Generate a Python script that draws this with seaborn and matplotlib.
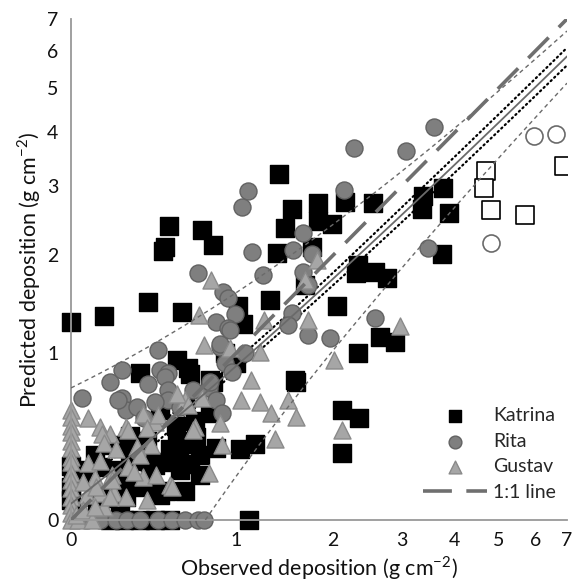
import matplotlib
matplotlib.use("Agg")
import matplotlib.pyplot as plt
import numpy as np
import pandas as pd
import seaborn as sns

# ---- values (g cm-2), observed vs predicted ----
katrina_obs = [0.00, 0.15, 0.38, 0.59, 0.51, 0.48, 0.47, 0.73, 0.81, 1.01,
               1.06, 1.39, 1.53, 1.82, 2.15, 2.55, 1.45, 1.82, 1.99, 1.37,
               1.75, 1.67, 1.30, 2.05, 2.33, 2.30, 2.58, 2.76, 3.38, 3.36,
               3.75, 3.87, 3.73, 2.66, 2.89, 1.57, 2.33, 2.11, 2.34, 2.11,
               1.16, 1.11,
               0.335, 0.56, 0.63, 0.91, 1.00, 0.81, 0.79, 0.56, 0.63, 0.69,
               0.84, 0.515, 0.47, 0.39, 0.35, 0.26, 0.21, 0.13, 0.04, 0.01,
               0.00, 0.375, 0.32, 0.26, 0.165, 0.115, 0.79, 1.56,
               0.61, 0.68, 0.55, 0.45, 0.28, 0.20, 0.083, 0.23, 0.45, 0.58,
               0.72, 0.28,
               0.18, 0.25, 0.335, 0.42, 0.515, 0.00, 1.03, 0.65, 0.65,
               0.49, 0.61, 0.72, 0.42, 0.106, 0.57, 0.36, 0.00]
katrina_pred = [1.27, 1.33, 1.47, 1.37, 2.39, 2.11, 2.06, 2.33, 2.13, 1.43,
                1.26, 3.21, 2.63, 2.73, 2.75, 2.72, 2.36, 2.46, 2.42, 2.03,
                2.10, 1.65, 1.49, 1.43, 1.88, 1.79, 1.80, 1.73, 2.83, 2.63,
                2.96, 2.57, 2.02, 1.14, 1.09, 0.77, 1.00, 0.58, 0.53, 0.32,
                0.37, 0.00,
                0.84, 0.94, 0.88, 1.00, 0.92, 0.77, 0.56, 0.39, 0.37, 0.41,
                0.35, 0.34, 0.27, 0.195, 0.146, 0.166, 0.23, 0.245, 0.23, 0.195,
                0.146, 0.39, 0.28, 0.10, 0.095, 0.073, 0.79, 0.79,
                0.61, 0.51, 0.48, 0.58, 0.31, 0.365, 0.18, 0.064, 0.11, 0.23,
                0.31, 0.42,
                0.00, 0.00, 0.00, 0.00, 0.00, 0.086, 0.34, 0.26, 0.83,
                0.13, 0.13, 0.205, 0.256, 0.31, 0.30, 0.30, 0.25]

rita_obs = [3.59, 3.08, 2.27, 2.14, 1.10, 1.05, 1.14, 0.70, 0.89, 0.93,
            0.99, 0.84, 0.93, 1.24, 1.65, 1.54, 1.75, 1.65, 1.70, 1.53,
            1.48, 1.70, 1.96, 2.58, 3.46, 0.44, 0.87, 0.91, 0.96, 0.45,
            0.50, 0.78, 0.047, 0.18, 0.24, 0.24, 0.26, 0.32, 0.38, 0.48,
            0.50, 0.50, 0.58, 0.67, 0.79, 0.84, 0.88, 0.36, 0.87, 0.95,
            1.07, 0.22, 0.42, 0.07, 0.13, 0.21, 0.265, 0.335, 0.44, 0.53,
            0.61, 0.70, 0.75]
rita_pred = [4.11, 3.62, 3.68, 2.93, 2.91, 2.67, 2.04, 1.79, 1.58, 1.51,
             1.35, 1.27, 1.22, 1.77, 2.29, 2.07, 2.02, 1.80, 1.65, 1.36,
             1.25, 1.155, 1.13, 1.31, 2.09, 1.025, 1.05, 0.92, 0.85, 0.86,
             0.84, 0.73, 0.66, 0.77, 0.86, 0.66, 0.58, 0.60, 0.76, 0.81,
             0.715, 0.645, 0.60, 0.715, 0.77, 0.645, 0.56, 0.53, 1.08, 1.20,
             1.00, 0.645, 0.63, 0.00, 0.00, 0.00, 0.00, 0.00, 0.00, 0.00,
             0.00, 0.00, 0.00]

gustav_obs = [0.00, 0.00, 0.00, 0.00, 0.00, 0.00, 0.00, 0.00, 0.00, 0.00,
              0.00, 0.00, 0.00, 0.00, 0.00, 0.03, 0.02,
              0.074, 0.13, 0.18, 0.26, 0.35, 0.42, 0.14, 0.15, 0.375, 0.40,
              0.32, 0.21, 0.074, 0.13, 0.27, 0.19, 0.106, 0.35, 0.30, 0.07,
              0.13, 0.20, 0.26, 0.15, 0.05, 0.09, 0.515, 0.68, 0.61, 0.73,
              0.335, 0.43, 0.375, 0.18, 0.106, 0.05, 0.11, 0.19, 0.75, 0.95,
              1.04, 0.56, 0.44, 0.63, 0.27, 0.88, 0.78, 0.53, 0.67, 0.87,
              1.13, 1.21, 1.48, 1.31, 1.57, 1.35, 2.01, 2.12, 1.21, 1.80,
              1.67, 1.25, 1.70, 2.97, 0.80, 0.71]
gustav_pred = [0.58, 0.535, 0.48, 0.44, 0.39, 0.35, 0.30, 0.27, 0.215, 0.18,
               0.14, 0.10, 0.064, 0.03, 0.00, 0.00, 0.02,
               0.525, 0.47, 0.43, 0.47, 0.55, 0.50, 0.43, 0.375, 0.465, 0.365,
               0.355, 0.34, 0.265, 0.28, 0.245, 0.205, 0.19, 0.195, 0.22, 0.11,
               0.12, 0.12, 0.10, 0.055, 0.042, 0.00, 0.156, 0.47, 0.645, 0.66,
               0.31, 0.205, 0.086, 0.10, 0.055, 0.17, 0.145, 0.18, 1.07, 1.04,
               0.645, 0.69, 0.546, 0.61, 0.45, 0.365, 0.215, 0.146, 0.45, 0.495,
               0.79, 0.63, 0.645, 0.56, 0.535, 0.40, 0.94, 0.45, 1.01, 1.94,
               1.71, 1.29, 1.29, 1.24, 1.71, 1.34]

# open symbols (not in legend)
open_sq_obs = [4.70, 4.65, 4.82, 5.71, 6.90]
open_sq_pred = [3.26, 2.96, 2.62, 2.55, 3.35]
open_ci_obs = [4.82, 5.97, 6.64]
open_ci_pred = [2.16, 3.93, 3.97]

# reference / fitted lines (end points or read points)
one_to_one_x = [0, 7]
one_to_one_y = [0, 7]
fit_x = [0, 7]
fit_y = [0.07, 5.85]
pred_hi_x = [0, 7]
pred_hi_y = [0.73, 6.61]
pred_lo_x = [0.756, 7]
pred_lo_y = [0.0, 5.13]
band_x = [0, 0.5, 1, 2, 3, 4, 5, 6, 7]
band_hi = [0.14, 0.53, 0.94, 1.79, 2.66, 3.52, 4.38, 5.24, 6.10]
band_lo = [0.00, 0.44, 0.86, 1.65, 2.44, 3.23, 4.02, 4.81, 5.60]

TICKS = list(range(8))


def _dense(xs, ys, n=400):
    """Straight segments in data space need many vertices to bend on log1p axes."""
    xd = np.linspace(xs[0], xs[-1], n)
    return xd, np.interp(xd, xs, ys)


sns.set_style("white")
plt.rcParams["font.family"] = ["Lato", "DejaVu Sans"]
plt.rcParams["mathtext.fontset"] = "custom"
plt.rcParams["mathtext.rm"] = "Lato"

fig = plt.figure(figsize=(5.77, 5.84), dpi=100)
ax = fig.add_axes([71 / 577, 64 / 584, 496 / 577, 501 / 584])

ax.set_xscale("function", functions=(np.log1p, np.expm1))
ax.set_yscale("function", functions=(np.log1p, np.expm1))
ax.set_xlim(0, 7)
ax.set_ylim(0, 7)

# confidence band sits behind the symbols
for by in (band_hi, band_lo):
    xd, yd = _dense(band_x, by)
    ax.plot(xd, yd, color="black", lw=1.6, ls=(0, (0.6, 1.6)),
            dash_capstyle="round", zorder=1)

storms = [
    ("Katrina", katrina_obs, katrina_pred, "s", "black", "black"),
    ("Rita", rita_obs, rita_pred, "o", "#7f7f7f", "#626262"),
    ("Gustav", gustav_obs, gustav_pred, "^", "#a6a6a6", "#8a8a8a"),
]
handles = []
for name, obs, pred, mk, fc, ec in storms:
    df = pd.DataFrame({"obs": obs, "pred": pred})
    sns.scatterplot(data=df, x="obs", y="pred", ax=ax, marker=mk, s=150,
                    color=fc, edgecolor=ec, linewidth=1.0, clip_on=False,
                    zorder=2, label=name, legend=False)
    handles.append(ax.collections[-1])

sns.scatterplot(x=open_sq_obs, y=open_sq_pred, ax=ax, marker="s", s=150,
                facecolor="white", edgecolor="black", linewidth=1.2,
                zorder=2, legend=False)
sns.scatterplot(x=open_ci_obs, y=open_ci_pred, ax=ax, marker="o", s=150,
                facecolor="white", edgecolor="#6a6a6a", linewidth=1.2,
                zorder=2, legend=False)

for lx, ly in ((pred_hi_x, pred_hi_y), (pred_lo_x, pred_lo_y)):
    xd, yd = _dense(lx, ly)
    ax.plot(xd, yd, color="#6a6a6a", lw=1.0, ls=(0, (3, 2.5)), zorder=3)

xd, yd = _dense(fit_x, fit_y)
ax.plot(xd, yd, color="#6a6a6a", lw=1.3, zorder=3)

xd, yd = _dense(one_to_one_x, one_to_one_y)
line11, = ax.plot(xd, yd, color="#6f6f6f", lw=2.6, ls=(0, (8, 4)),
                  zorder=3, label="1:1 line")
handles.append(line11)

ax.set_xticks(TICKS)
ax.set_yticks(TICKS)
ax.set_xticklabels([str(t) for t in TICKS])
ax.set_yticklabels([str(t) for t in TICKS])
ax.minorticks_off()
ax.tick_params(axis="both", direction="out", length=5, width=1.2,
               color="#999999", labelsize=14, labelcolor="#111111", pad=4)

for side in ("top", "right"):
    ax.spines[side].set_visible(False)
for side in ("left", "bottom"):
    ax.spines[side].set_color("#999999")
    ax.spines[side].set_linewidth(1.3)

ax.set_xlabel("Observed deposition (g cm$^{\\mathrm{-2}}$)", fontsize=15.5,
              color="#111111", labelpad=3)
ax.set_ylabel("Predicted deposition (g cm$^{\\mathrm{-2}}$)", fontsize=15.5,
              color="#111111", labelpad=3)

ax.legend(handles=handles, labels=["Katrina", "Rita", "Gustav", "1:1 line"],
          loc="upper left", bbox_to_anchor=(0.69, 0.245), frameon=False,
          fontsize=14, markerscale=0.75, handlelength=3.3, handletextpad=0.3,
          labelspacing=0.45, borderpad=0)

fig.savefig("out.png", dpi=100)
